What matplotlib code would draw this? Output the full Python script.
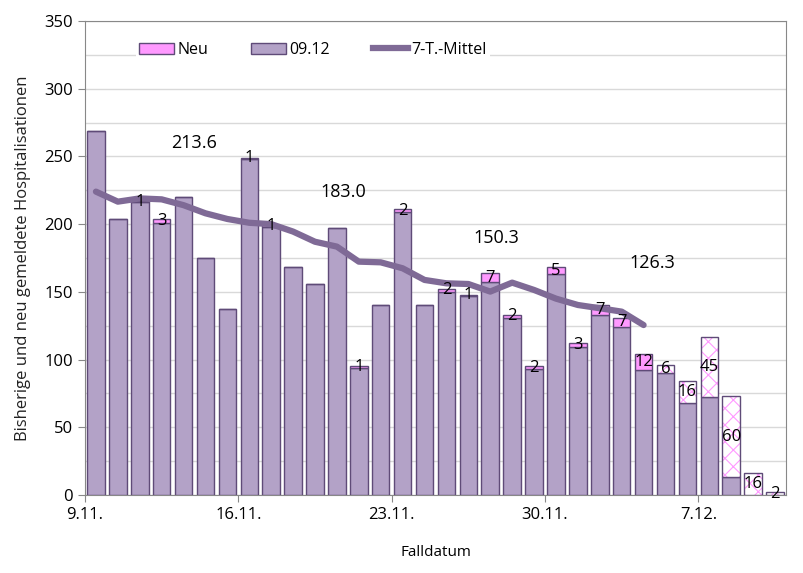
import numpy as np
import matplotlib
matplotlib.use("Agg")
import matplotlib.pyplot as plt
from matplotlib.patches import Patch
from matplotlib.lines import Line2D

plt.rcParams['font.family'] = ['Open Sans', 'DejaVu Sans']
plt.rcParams['hatch.linewidth'] = 0.8

# case data, 9.11. - 10.12.
tick_labels = ['9.11.', '16.11.', '23.11.', '30.11.', '7.12.']
base = [269, 204, 216, 201, 220, 175, 137, 248, 198, 168, 156, 197, 94, 140, 209, 140,
        150, 147, 157, 131, 93, 163, 109, 133, 124, 92, 90, 68, 72, 13, 0, 0]
new = [0, 0, 1, 3, 0, 0, 0, 1, 1, 0, 0, 0, 1, 0, 2, 0,
       2, 1, 7, 2, 2, 5, 3, 7, 7, 12, 6, 16, 45, 60, 16, 2]
mean7 = [224, 216.6, 219, 218.3, 214, 208, 203.8, 201, 200, 194.5, 187, 183.4, 172.3,
         171.8, 167.4, 158.8, 156.3, 155.8, 150.2, 156.8, 151.4, 145, 140.3, 137.9,
         135.4, 125.5]
week_avg = ['213.6', '183.0', '150.3', '126.3']
first_hatched = 26  # from here on the new cases are incomplete (hatched)

c_base = '#b3a2c7'
c_edge = '#5f4b78'
c_new = '#ff99ff'
c_line = '#7f6a96'

n = len(base)
x = np.arange(n) + 0.5
w = 0.8

fig = plt.figure(figsize=(8.04, 5.73), dpi=100)
ax = fig.add_axes([0.1057, 0.1361, 0.8719, 0.8273])

ax.bar(x, base, width=w, color=c_base, edgecolor=c_edge, linewidth=1, zorder=3)
solid = np.arange(n) < first_hatched
ax.bar(x[solid], np.array(new)[solid], bottom=np.array(base)[solid], width=w,
       color=c_new, edgecolor=c_edge, linewidth=1, zorder=3)
hx = x[~solid]
hn = np.array(new)[~solid]
hb = np.array(base)[~solid]
ax.bar(hx, hn, bottom=hb, width=w, color='white', edgecolor=c_new, hatch='xx',
       linewidth=0, zorder=3)
ax.bar(hx, hn, bottom=hb, width=w, fill=False, edgecolor=c_edge, linewidth=1, zorder=4)

for i in range(n):
    if new[i] > 0:
        ax.text(x[i], base[i] + new[i] / 2, str(new[i]), ha='center', va='center',
                fontsize=12, color='black', zorder=6)

ax.plot(x[:len(mean7)], mean7, color=c_line, linewidth=4.5, solid_capstyle='round',
        zorder=5)

for lbl, px, py in zip(week_avg, [5.0, 11.8, 18.8, 25.9], [260, 224, 190, 171]):
    ax.text(px, py, lbl, ha='center', va='center', fontsize=13, color='black', zorder=6)

ax.set_xlim(0, n)
ax.set_ylim(0, 350)
ax.set_yticks(np.arange(0, 351, 50))
ax.set_yticks(np.arange(0, 351, 25), minor=True)
ax.set_xticks(np.arange(0, n, 7))
ax.set_xticklabels(tick_labels)
ax.grid(axis='y', which='both', color='#d9d9d9', linewidth=1, zorder=0)
ax.set_axisbelow(True)
ax.tick_params(axis='both', which='major', labelsize=12, length=5, color='#888888')
ax.tick_params(axis='y', which='minor', length=0)
for s in ax.spines.values():
    s.set_color('#888888')

ax.set_ylabel('Bisherige und neu gemeldete Hospitalisationen', fontsize=12, labelpad=10,
              color='#222222')
ax.set_xlabel('Falldatum', fontsize=11, labelpad=16)

handles = [Patch(facecolor=c_new, edgecolor=c_edge, label='Neu'),
           Patch(facecolor=c_base, edgecolor=c_edge, label='09.12'),
           Line2D([0], [0], color=c_line, linewidth=4.5, label='7-T.-Mittel')]
leg = ax.legend(handles=handles, loc='center left', bbox_to_anchor=(0.061, 0.939),
                ncol=3, frameon=True, fontsize=11.5, handlelength=2.2, handletextpad=0.2,
                columnspacing=2.7, borderpad=0.2, fancybox=False)
leg.get_frame().set_edgecolor('none')
leg.get_frame().set_facecolor('white')
leg.get_frame().set_alpha(1)
leg.set_zorder(7)

fig.savefig('out.png', dpi=100)
